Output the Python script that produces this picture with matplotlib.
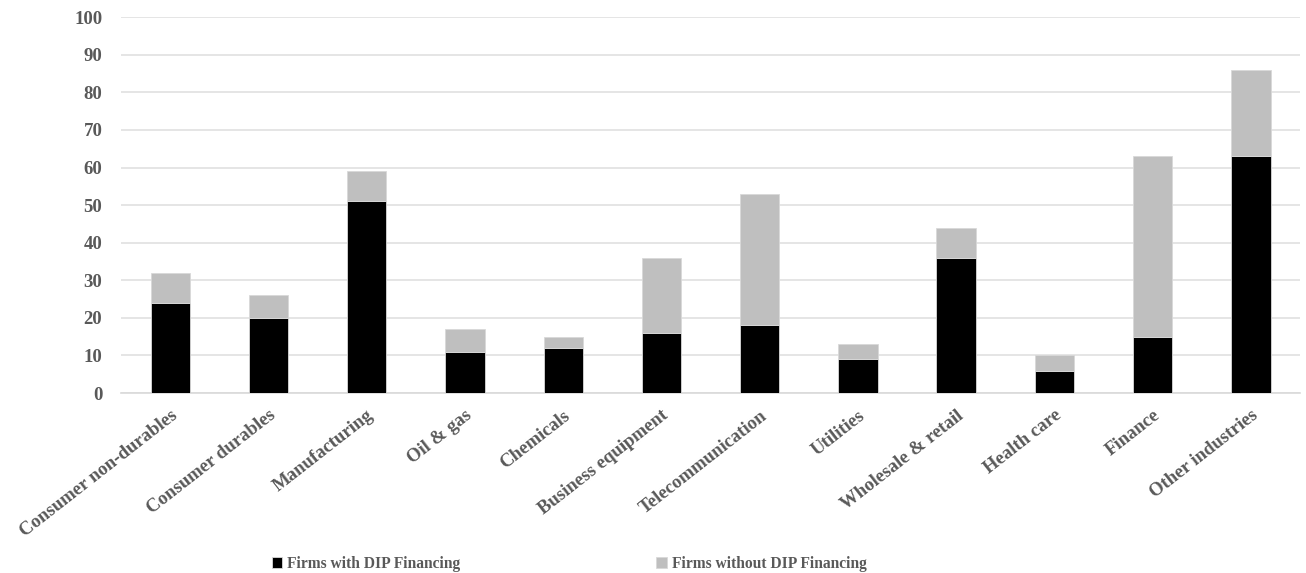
import numpy as np
import matplotlib.pyplot as plt

# Bankrupt firms by industry, split by DIP financing status
industries = ['Consumer non-durables', 'Consumer durables', 'Manufacturing', 'Oil & gas',
              'Chemicals', 'Business equipment', 'Telecommunication', 'Utilities',
              'Wholesale & retail', 'Health care', 'Finance', 'Other industries']
with_dip = [24, 20, 51, 11, 12, 16, 18, 9, 36, 6, 15, 63]
without_dip = [8, 6, 8, 6, 3, 20, 35, 4, 8, 4, 48, 23]
yticks = np.arange(0, 101, 10)

text_color = '#595959'
plt.rcParams['font.family'] = ['Liberation Serif', 'DejaVu Serif']
plt.rcParams['font.weight'] = 'bold'

fig = plt.figure(figsize=(13.06, 5.73), dpi=100)
ax = fig.add_axes([0.0927, 0.314, 0.9027, 0.656])

x = np.arange(len(industries))
b1 = ax.bar(x, with_dip, width=0.4, color='black', edgecolor='#d9d9d9', linewidth=0.6,
            label='Firms with DIP Financing', zorder=3)
b2 = ax.bar(x, without_dip, width=0.4, bottom=with_dip, color='#bfbfbf', edgecolor='#d9d9d9',
            linewidth=0.6, label='Firms without DIP Financing', zorder=3)

ax.set_xlim(-0.5, len(industries) - 0.5)
ax.set_ylim(0, 100)
ax.set_yticks(yticks)
ax.grid(axis='y', color='#e0e0e0', linewidth=1.2, zorder=0)
for side in ['top', 'right', 'left']:
    ax.spines[side].set_visible(False)
ax.spines['bottom'].set_color('#d9d9d9')
ax.spines['bottom'].set_linewidth(1.2)

ax.tick_params(axis='y', length=0, pad=13.5, labelsize=13.5, labelcolor=text_color)
ax.tick_params(axis='x', length=0, pad=10, labelsize=13.5, labelcolor=text_color)
ax.set_xticks(x)
ax.set_xticklabels(industries, rotation=38, ha='right', rotation_mode='anchor')

fig.legend(handles=[b1, b2], loc='center', bbox_to_anchor=(569 / 1306, 1 - 564 / 573),
           ncol=2, frameon=False, fontsize=11.2, handlelength=0.7, handleheight=0.7,
           handletextpad=0.3, columnspacing=12.6, labelcolor=text_color)

fig.savefig('out.png', dpi=100)
